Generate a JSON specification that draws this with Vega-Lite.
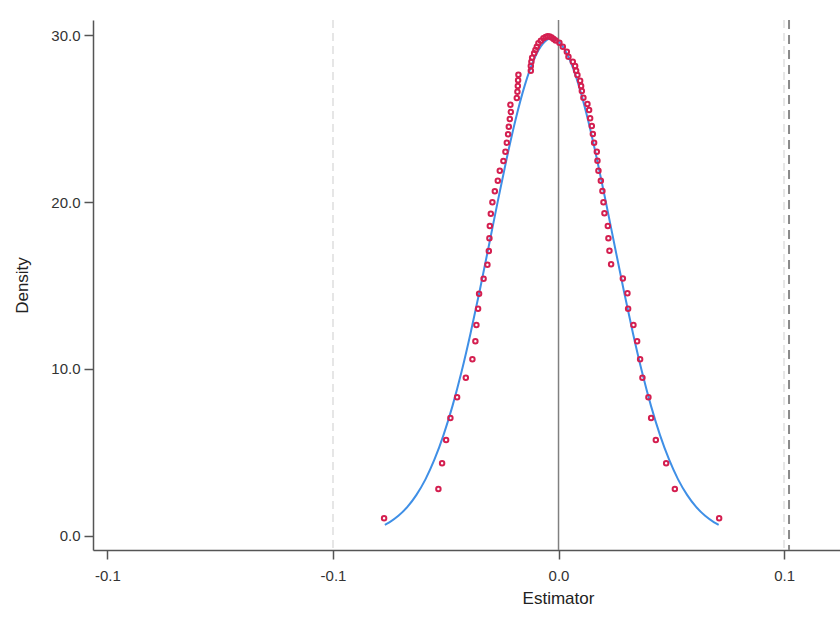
{
  "$schema": "https://vega.github.io/schema/vega-lite/v6.json",
  "width": 747,
  "height": 530,
  "autosize": {"type": "none"},
  "padding": {"left": 93, "top": 20, "right": 0, "bottom": 80},
  "background": "white",
  "config": {
    "view": {"stroke": null},
    "font": "Liberation Sans",
    "axis": {"grid": false, "domainColor": "#555555", "domainWidth": 1.5, "tickColor": "#555555", "tickWidth": 1.5, "tickSize": 9, "labelFont": "Liberation Sans", "labelFontSize": 15, "labelColor": "#333333", "titleFont": "Liberation Sans", "titleFontSize": 17, "titleFontWeight": "normal", "titleColor": "#222222"}
  },
  "datasets": {
    "pts": [
      {"x": -0.03867, "y": 1.060}, {"x": -0.02663, "y": 2.814}, {"x": -0.02581, "y": 4.353}, {"x": -0.02492, "y": 5.749},
      {"x": -0.02397, "y": 7.066}, {"x": -0.02248, "y": 8.305}, {"x": -0.02055, "y": 9.479}, {"x": -0.01909, "y": 10.581},
      {"x": -0.01843, "y": 11.659}, {"x": -0.01820, "y": 12.635}, {"x": -0.01783, "y": 13.611}, {"x": -0.01761, "y": 14.509},
      {"x": -0.01661, "y": 15.407}, {"x": -0.01576, "y": 16.246}, {"x": -0.01545, "y": 17.066}, {"x": -0.01532, "y": 17.826},
      {"x": -0.01523, "y": 18.563}, {"x": -0.01501, "y": 19.299}, {"x": -0.01466, "y": 19.982}, {"x": -0.01412, "y": 20.641},
      {"x": -0.01346, "y": 21.275}, {"x": -0.01302, "y": 21.874}, {"x": -0.01222, "y": 22.455}, {"x": -0.01177, "y": 23.012},
      {"x": -0.01146, "y": 23.551}, {"x": -0.01118, "y": 24.054}, {"x": -0.01102, "y": 24.509}, {"x": -0.01080, "y": 24.970},
      {"x": -0.01058, "y": 25.389}, {"x": -0.01067, "y": 25.826}, {"x": -0.00925, "y": 26.228}, {"x": -0.00911, "y": 26.605},
      {"x": -0.00902, "y": 26.946}, {"x": -0.00896, "y": 27.287}, {"x": -0.00889, "y": 27.623}, {"x": -0.00614, "y": 27.862},
      {"x": -0.00614, "y": 28.144}, {"x": -0.00601, "y": 28.401}, {"x": -0.00585, "y": 28.641}, {"x": -0.00541, "y": 28.904},
      {"x": -0.00512, "y": 29.102}, {"x": -0.00481, "y": 29.299}, {"x": -0.00446, "y": 29.503}, {"x": -0.00392, "y": 29.659},
      {"x": -0.00335, "y": 29.802}, {"x": -0.00286, "y": 29.880}, {"x": -0.00242, "y": 29.922}, {"x": -0.00197, "y": 29.910},
      {"x": -0.00153, "y": 29.850}, {"x": -0.00109, "y": 29.760}, {"x": -0.00064, "y": 29.671}, {"x": 0.00020, "y": 29.539},
      {"x": 0.00095, "y": 29.299}, {"x": 0.00184, "y": 29.000}, {"x": 0.00220, "y": 28.701}, {"x": 0.00317, "y": 28.401},
      {"x": 0.00368, "y": 28.144}, {"x": 0.00390, "y": 27.862}, {"x": 0.00419, "y": 27.605}, {"x": 0.00479, "y": 27.263},
      {"x": 0.00501, "y": 26.946}, {"x": 0.00517, "y": 26.647}, {"x": 0.00552, "y": 26.246}, {"x": 0.00641, "y": 25.868},
      {"x": 0.00678, "y": 25.509}, {"x": 0.00701, "y": 25.012}, {"x": 0.00738, "y": 24.551}, {"x": 0.00761, "y": 24.072},
      {"x": 0.00789, "y": 23.551}, {"x": 0.00849, "y": 23.012}, {"x": 0.00863, "y": 22.473}, {"x": 0.00885, "y": 21.874},
      {"x": 0.00938, "y": 21.275}, {"x": 0.00973, "y": 20.659}, {"x": 0.00996, "y": 19.982}, {"x": 0.01018, "y": 19.323},
      {"x": 0.01093, "y": 18.563}, {"x": 0.01106, "y": 17.826}, {"x": 0.01129, "y": 17.084}, {"x": 0.01166, "y": 16.269},
      {"x": 0.01426, "y": 15.419}, {"x": 0.01528, "y": 14.533}, {"x": 0.01543, "y": 13.611}, {"x": 0.01661, "y": 12.635},
      {"x": 0.01743, "y": 11.659}, {"x": 0.01809, "y": 10.581}, {"x": 0.01860, "y": 9.479}, {"x": 0.01993, "y": 8.305},
      {"x": 0.02053, "y": 7.066}, {"x": 0.02157, "y": 5.749}, {"x": 0.02386, "y": 4.353}, {"x": 0.02579, "y": 2.814},
      {"x": 0.03561, "y": 1.060}
    ],
    "curve": [
      {"x": -0.0385, "y": 0.67}, {"x": -0.0375, "y": 0.82}, {"x": -0.0355, "y": 1.21}, {"x": -0.0335, "y": 1.74},
      {"x": -0.0315, "y": 2.46}, {"x": -0.0295, "y": 3.39}, {"x": -0.0275, "y": 4.58}, {"x": -0.0255, "y": 6.04},
      {"x": -0.0235, "y": 7.79}, {"x": -0.0215, "y": 9.83}, {"x": -0.0195, "y": 12.14}, {"x": -0.0175, "y": 14.66},
      {"x": -0.0155, "y": 17.31}, {"x": -0.0135, "y": 19.99}, {"x": -0.0115, "y": 22.59}, {"x": -0.0095, "y": 24.96},
      {"x": -0.0075, "y": 26.97}, {"x": -0.0055, "y": 28.51}, {"x": -0.0035, "y": 29.47}, {"x": -0.0015, "y": 29.80},
      {"x": 0.0005, "y": 29.47}, {"x": 0.0025, "y": 28.51}, {"x": 0.0045, "y": 26.97}, {"x": 0.0065, "y": 24.96},
      {"x": 0.0085, "y": 22.59}, {"x": 0.0105, "y": 19.99}, {"x": 0.0125, "y": 17.31}, {"x": 0.0145, "y": 14.66},
      {"x": 0.0165, "y": 12.14}, {"x": 0.0185, "y": 9.83}, {"x": 0.0205, "y": 7.79}, {"x": 0.0225, "y": 6.04},
      {"x": 0.0245, "y": 4.58}, {"x": 0.0265, "y": 3.39}, {"x": 0.0285, "y": 2.46}, {"x": 0.0305, "y": 1.74},
      {"x": 0.0325, "y": 1.21}, {"x": 0.0345, "y": 0.82}, {"x": 0.0355, "y": 0.67}
    ],
    "grid": [{"x": -0.05}, {"x": 0.05}],
    "zero": [{"x": 0}],
    "ref": [{"x": 0.0511}]
  },
  "layer": [
    {
      "data": {"name": "grid"},
      "mark": {"type": "rule", "color": "#e6e6e6", "strokeWidth": 2, "strokeDash": [8, 5]},
      "encoding": {
        "x": {"field": "x", "type": "quantitative", "scale": {"domain": [-0.1032, 0.0624], "nice": false, "zero": false},
          "axis": {"title": "Estimator", "values": [-0.1, -0.05, 0, 0.05], "labelExpr": "datum.value < 0.02 && datum.value > -0.02 ? '0.0' : (datum.value < 0 ? '-0.1' : '0.1')", "labelPadding": 9, "titlePadding": 7, "titleX": 465, "titleAlign": "center"}}
      }
    },
    {
      "data": {"name": "zero"},
      "mark": {"type": "rule", "color": "#808080", "strokeWidth": 1.5},
      "encoding": {"x": {"field": "x", "type": "quantitative"}}
    },
    {
      "data": {"name": "ref"},
      "mark": {"type": "rule", "color": "#8a8a8a", "strokeWidth": 2, "strokeDash": [9, 6]},
      "encoding": {"x": {"field": "x", "type": "quantitative"}}
    },
    {
      "data": {"name": "curve"},
      "mark": {"type": "line", "color": "#3f8fe6", "strokeWidth": 2, "interpolate": "monotone"},
      "encoding": {
        "x": {"field": "x", "type": "quantitative"},
        "y": {"field": "y", "type": "quantitative", "scale": {"domain": [-0.84, 30.9], "nice": false, "zero": false},
          "axis": {"title": "Density", "values": [0, 10, 20, 30], "format": ".1f", "labelPadding": 4, "titlePadding": 19}}
      }
    },
    {
      "data": {"name": "pts"},
      "mark": {"type": "point", "shape": "circle", "filled": false, "color": "#d41f50", "strokeWidth": 2, "size": 20, "opacity": 1},
      "encoding": {
        "x": {"field": "x", "type": "quantitative"},
        "y": {"field": "y", "type": "quantitative"}
      }
    }
  ]
}
